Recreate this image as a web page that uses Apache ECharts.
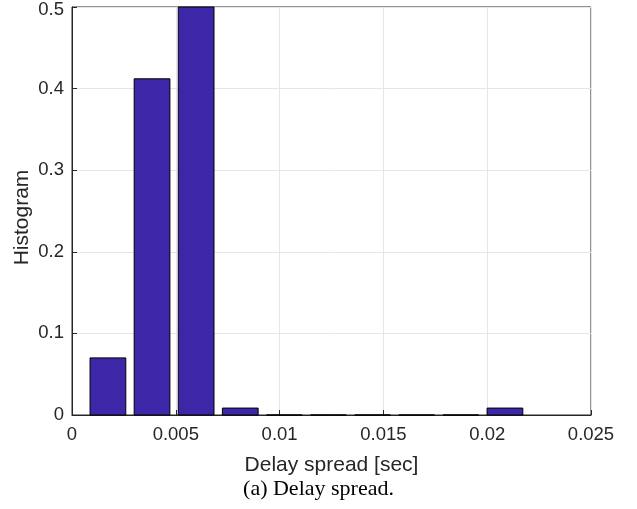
<!DOCTYPE html>
<html><head><meta charset="utf-8">
<script src="https://cdn.jsdelivr.net/npm/echarts@6/dist/echarts.min.js"></script>
<style>html,body{margin:0;padding:0;background:#fff}#c{width:637px;height:509px}</style>
</head><body><div id="c"></div>
<script>
// Bin centers (seconds) and histogram values
const binCenters = [0.00173, 0.003855, 0.00598, 0.008105, 0.01023, 0.012355, 0.01448, 0.016605, 0.01873, 0.020855];
const histValues = [0.070, 0.412, 0.500, 0.0085, 0, 0, 0, 0, 0, 0.0085];
const binWidth = 0.002125;
const barFrac = 0.81;
const xTicks = [0, 0.005, 0.01, 0.015, 0.02, 0.025];
const yTicks = [0, 0.1, 0.2, 0.3, 0.4, 0.5];

const chart = echarts.init(document.getElementById('c'), null, {renderer:'canvas'});
const font = '"Liberation Sans", Arial, Helvetica, sans-serif';
const data = binCenters.map((c,i)=>[c, histValues[i]]);
chart.setOption({
  animation:false,
  backgroundColor:'#fff',
  grid:{left:72, right:46, top:7, bottom:94, containLabel:false, outerBoundsMode:'none',
    show:true, borderColor:'#262626', borderWidth:1, backgroundColor:'#fff'},
  xAxis:{type:'value', min:0, max:0.025, interval:0.005,
    axisLine:{show:true, lineStyle:{color:'#262626', width:1}},
    axisTick:{show:true, inside:true, length:5, lineStyle:{color:'#262626'}},
    axisLabel:{color:'#262626', fontSize:18.5, fontFamily:font, margin:10,
      formatter:v=>{const t=xTicks.find(x=>Math.abs(x-v)<1e-9); return t===undefined?'':String(t);}},
    splitLine:{show:true, lineStyle:{color:'#e6e6e6', width:1}},
    name:'Delay spread [sec]', nameLocation:'middle', nameGap:40,
    nameTextStyle:{color:'#262626', fontSize:21, fontFamily:font}
  },
  yAxis:{type:'value', min:0, max:0.5, interval:0.1,
    axisLine:{show:true, lineStyle:{color:'#262626', width:1}},
    axisTick:{show:true, inside:true, length:5, lineStyle:{color:'#262626'}},
    axisLabel:{color:'#262626', fontSize:18.5, fontFamily:font, margin:8,
      rich:{top:{color:'#262626', fontSize:18.5, fontFamily:font, padding:[6,0,0,0]}},
      formatter:v=>{const t=yTicks.find(y=>Math.abs(y-v)<1e-9); if(t===undefined) return '';
        return t===yTicks[yTicks.length-1] ? '{top|'+t+'}' : String(t);}},
    splitLine:{show:true, lineStyle:{color:'#e6e6e6', width:1}}
  },
  series:[{
    type:'custom',
    data:data,
    renderItem:(params, api)=>{
      const c = api.value(0), v = api.value(1);
      const p0 = api.coord([c - binWidth*barFrac/2, v]);
      const p1 = api.coord([c + binWidth*barFrac/2, 0]);
      return {type:'rect', shape:{x:p0[0], y:p0[1], width:p1[0]-p0[0], height:p1[1]-p0[1]},
        style:{fill:'#3E26A8', stroke:'#000', lineWidth:1}};
    },
    z:3
  }],
  graphic:[
    {type:'text', x:22, y:217.5, rotation:Math.PI/2,
      style:{text:'Histogram', font:'21px ' + font, fill:'#262626', align:'center', verticalAlign:'middle'}},
    {type:'text', left:'center', top:478,
      style:{text:'(a) Delay spread.', font:'22px "Liberation Serif", "Times New Roman", serif', fill:'#000'}}
  ]
});
</script></body></html>
